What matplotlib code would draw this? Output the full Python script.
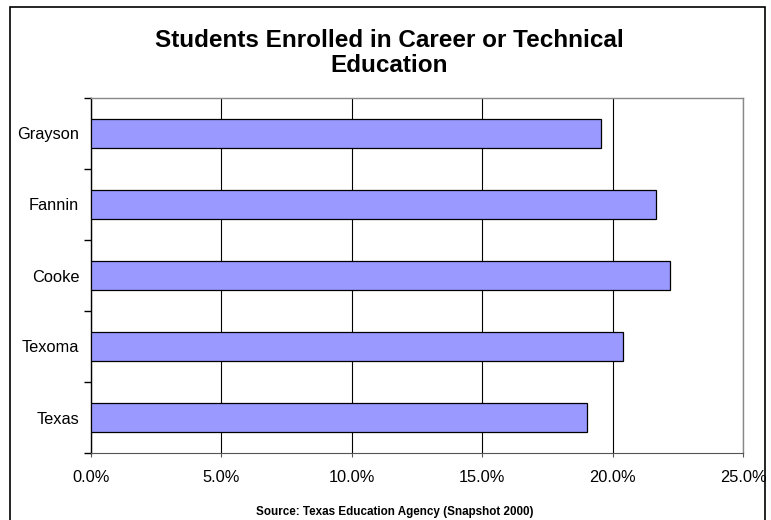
import matplotlib
matplotlib.use('Agg')
import matplotlib.pyplot as plt
from matplotlib.patches import Rectangle
from matplotlib.ticker import FuncFormatter

# data, top to bottom as in the chart
areas = ['Grayson', 'Fannin', 'Cooke', 'Texoma', 'Texas']
pct = [19.55, 21.65, 22.2, 20.4, 19.0]

plt.rcParams['font.family'] = ['Liberation Sans', 'DejaVu Sans']

fig = plt.figure(figsize=(7.71, 5.20), dpi=100)
ax = fig.add_axes([91/771, 1 - 453/520, (743 - 91)/771, (453 - 98)/520])

ypos = list(range(len(areas)))[::-1]
ax.barh(ypos, pct, height=0.4, color='#9999FF', edgecolor='black', linewidth=0.9, zorder=3)

ax.set_xlim(0, 25)
ax.set_ylim(-0.5, len(areas) - 0.5)
ax.set_xticks([0, 5, 10, 15, 20, 25])
ax.xaxis.set_major_formatter(FuncFormatter(lambda v, p: '%.1f%%' % v))
ax.grid(axis='x', color='black', linewidth=0.8, zorder=1)
ax.tick_params(axis='x', labelsize=11.8, length=3, pad=9, color='#555555')

# ticks sit between categories, labels at the centres
ax.set_yticks([i - 0.5 for i in range(len(areas) + 1)])
ax.set_yticklabels([])
ax.set_yticks(ypos, minor=True)
ax.set_yticklabels(areas, minor=True)
ax.tick_params(axis='y', which='major', length=5, width=1, color='black')
ax.tick_params(axis='y', which='minor', length=0, pad=8.5, labelsize=11.8)

ax.spines['left'].set_color('black')
ax.spines['left'].set_linewidth(1.0)
ax.spines['bottom'].set_color('#555555')
for s in ['top', 'right']:
  ax.spines[s].set_color('#888888')
  ax.spines[s].set_linewidth(1.0)

fig.text(389/771, 1 - 53/520, 'Students Enrolled in Career or Technical\nEducation',
         ha='center', va='center', fontsize=17.5, fontweight='bold', linespacing=1.15)
fig.text(395/771, 1 - 512/520, 'Source: Texas Education Agency (Snapshot 2000)',
         ha='center', va='center', fontsize=8.4, fontweight='bold')

# outer frame
fig.patches.append(Rectangle((10/771, -0.05), 755/771, 1.05 - 7/520,
                             transform=fig.transFigure, fill=False,
                             edgecolor='black', linewidth=1.2))

fig.savefig('out.png', dpi=100)
